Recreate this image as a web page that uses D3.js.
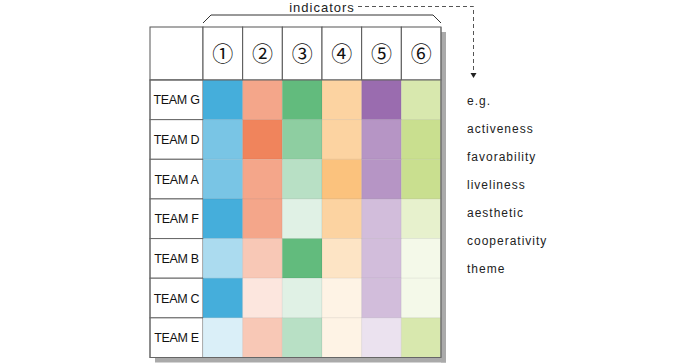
<!DOCTYPE html>
<html>
<head>
<meta charset="utf-8">
<script src="https://cdn.jsdelivr.net/npm/d3@7"></script>
<style>
  body { margin: 0; background: #fff; }
  svg { display: block; font-family: "Liberation Sans", Arial, sans-serif; }
</style>
</head>
<body>
<svg id="chart" width="700" height="363"></svg>
<script>
// data
var teams = ['TEAM G', 'TEAM D', 'TEAM A', 'TEAM F', 'TEAM B', 'TEAM C', 'TEAM E'];
var indicators = ['①', '②', '③', '④', '⑤', '⑥'];
var baseColors = ['#45aedb', '#f0845c', '#62bb7d', '#fbc27d', '#9a6caf', '#c9df8f'];
// level 1..4 per team (rows) x indicator (cols)
var levels = [
  [4, 3, 4, 3, 4, 3],
  [3, 4, 3, 3, 3, 4],
  [3, 3, 2, 4, 3, 4],
  [4, 3, 1, 3, 2, 2],
  [2, 2, 4, 2, 2, 1],
  [4, 1, 1, 1, 2, 1],
  [1, 2, 2, 1, 1, 3]
];
var legendItems = ['e.g.', 'activeness', 'favorability', 'liveliness', 'aesthetic', 'cooperativity', 'theme'];

var svg = d3.select('#chart');

var x = d3.scaleBand().domain(indicators).range([203, 441]);
var y = d3.scaleBand().domain(teams).range([80, 357.5]);
var labelX = [150, 203];
var headY = [27, 80];
var strength = d3.scaleOrdinal().domain([1, 2, 3, 4]).range([0.2, 0.45, 0.72, 1]);

// shadow
svg.append('rect').attr('x', 441).attr('y', 32).attr('width', 5).attr('height', 357.5 - 32 + 5).attr('fill', '#aaa');
svg.append('rect').attr('x', 155).attr('y', 357.5).attr('width', 291).attr('height', 5).attr('fill', '#aaa');

// header cells
svg.append('rect').attr('x', labelX[0]).attr('y', headY[0])
  .attr('width', labelX[1] - labelX[0]).attr('height', headY[1] - headY[0])
  .attr('fill', '#fff').attr('stroke', '#555');
var head = svg.selectAll('g.head').data(indicators).enter().append('g').attr('class', 'head');
head.append('rect')
  .attr('x', function(d){ return x(d); }).attr('y', headY[0])
  .attr('width', x.bandwidth()).attr('height', headY[1] - headY[0])
  .attr('fill', '#fff').attr('stroke', '#555');
head.append('text')
  .attr('x', function(d){ return x(d) + x.bandwidth() / 2; })
  .attr('y', (headY[0] + headY[1]) / 2 + 7.5)
  .attr('text-anchor', 'middle').attr('font-size', 21).attr('fill', '#111')
  .attr('font-family', '"Noto Sans CJK JP", "DejaVu Sans", sans-serif')
  .text(function(d){ return d; });

// row labels
var row = svg.selectAll('g.row').data(teams).enter().append('g').attr('class', 'row');
row.append('rect')
  .attr('x', labelX[0]).attr('y', function(d){ return y(d); })
  .attr('width', labelX[1] - labelX[0]).attr('height', y.bandwidth())
  .attr('fill', '#fff').attr('stroke', '#666');
row.append('text')
  .attr('x', (labelX[0] + labelX[1]) / 2)
  .attr('y', function(d){ return y(d) + y.bandwidth() / 2 + 4.5; })
  .attr('text-anchor', 'middle').attr('font-size', 12.5).attr('letter-spacing', -0.3)
  .attr('fill', '#111')
  .text(function(d){ return d; });

// cells
var cells = [];
teams.forEach(function(t, i){
  indicators.forEach(function(k, j){
    cells.push({ team: t, ind: k, col: j, level: levels[i][j] });
  });
});
svg.selectAll('rect.cell').data(cells).enter().append('rect').attr('class', 'cell')
  .attr('x', function(d){ return x(d.ind); })
  .attr('y', function(d){ return y(d.team); })
  .attr('width', x.bandwidth()).attr('height', y.bandwidth())
  .attr('fill', function(d){ return d3.interpolateRgb('#fff', baseColors[d.col])(strength(d.level)); })
  .attr('stroke', 'rgba(0,0,0,0.05)');

// outer border
svg.append('rect').attr('x', labelX[0]).attr('y', headY[1])
  .attr('width', 441 - labelX[0]).attr('height', 357.5 - headY[1])
  .attr('fill', 'none').attr('stroke', '#666');
svg.append('line').attr('x1', 441).attr('x2', 441).attr('y1', headY[0]).attr('y2', 357.5).attr('stroke', '#777');

// bracket + title
svg.append('path').attr('d', 'M203,23 L211,15 L433,15 L441,23')
  .attr('fill', 'none').attr('stroke', '#333');
svg.append('text').attr('x', 322).attr('y', 12).attr('text-anchor', 'middle')
  .attr('font-size', 13).attr('letter-spacing', 1).attr('fill', '#222').text('indicators');
svg.append('path').attr('d', 'M358,6.5 H473.5 V72')
  .attr('fill', 'none').attr('stroke', '#555').attr('stroke-dasharray', '4,3');
svg.append('path').attr('d', 'M470.5,73 L476.5,73 L473.5,78 Z').attr('fill', '#222');

// legend list
svg.selectAll('text.leg').data(legendItems).enter().append('text').attr('class', 'leg')
  .attr('x', 467).attr('y', function(d, i){ return 105 + i * 28; })
  .attr('font-size', 12).attr('letter-spacing', 1).attr('fill', '#222')
  .text(function(d){ return d; });
</script>
</body>
</html>
